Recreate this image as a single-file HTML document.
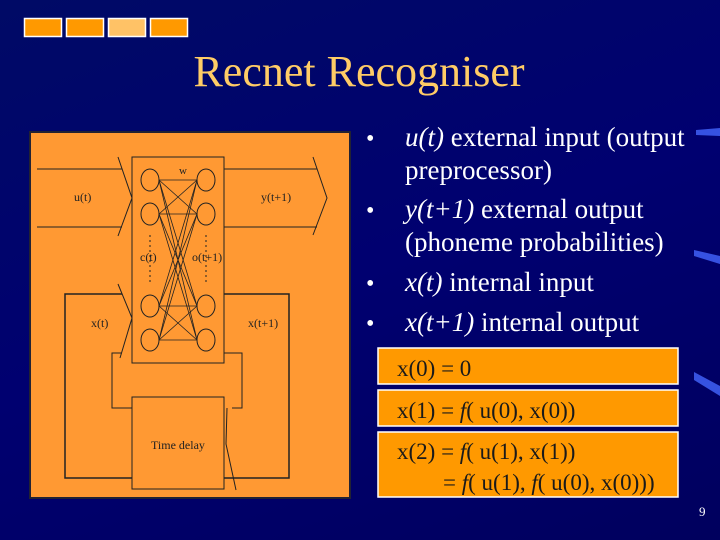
<!DOCTYPE html>
<html><head><meta charset="utf-8"><style>
html,body{margin:0;padding:0;}
body{width:720px;height:540px;overflow:hidden;background:linear-gradient(160deg,#000a66 0%,#000070 50%,#00005e 100%);font-family:"Liberation Serif",serif;}
</style></head><body>
<svg width="720" height="540" xmlns="http://www.w3.org/2000/svg" style="position:absolute;left:0;top:0">
<g stroke="#fff" stroke-width="1.5">
<rect x="24.5" y="18.5" width="37" height="18" fill="#ff9900"/>
<rect x="66.5" y="18.5" width="37" height="18" fill="#ff9900"/>
<rect x="108.5" y="18.5" width="37" height="18" fill="#ffc266"/>
<rect x="150.5" y="18.5" width="37" height="18" fill="#ff9900"/>
</g>
<text x="359" y="86" text-anchor="middle" font-size="44" fill="#ffcc66" font-family="Liberation Serif">Recnet Recogniser</text>
<rect x="30" y="132" width="320" height="366" fill="#ff9933" stroke="#223" stroke-width="2"/>
<g stroke="#222" stroke-width="1" fill="none">
<rect x="132" y="157" width="92" height="206"/>
<rect x="132" y="397" width="92" height="92"/>
<line x1="37" y1="169" x2="122" y2="169"/><line x1="37" y1="227" x2="122" y2="227"/>
<polyline points="118,157 132,198 118,236"/>
<line x1="224" y1="169" x2="317" y2="169"/><line x1="224" y1="227" x2="317" y2="227"/>
<polyline points="313,157 327,198 313,235"/>
<polyline points="122,294 65,294 65,478 132,478" stroke-width="1.5"/>
<polyline points="118,284 132,318 120,358"/>
<polyline points="224,294 289,294 289,478 224,478" stroke-width="1.5"/>
<polyline points="227,408 226,444 236,490"/>
<polyline points="122,353 112,353 112,408 132,408"/>
<polyline points="224,353 242,353 242,408 232,408"/>
<g stroke-width="1">
<ellipse cx="150" cy="180" rx="9" ry="11"/><ellipse cx="150" cy="214" rx="9" ry="11"/>
<ellipse cx="150" cy="306" rx="9" ry="11"/><ellipse cx="150" cy="340" rx="9" ry="11"/>
<ellipse cx="206" cy="180" rx="9" ry="11"/><ellipse cx="206" cy="214" rx="9" ry="11"/>
<ellipse cx="206" cy="306" rx="9" ry="11"/><ellipse cx="206" cy="340" rx="9" ry="11"/>
</g>
<g stroke-width="0.8">
<line x1="159" y1="180" x2="197" y2="180"/><line x1="159" y1="180" x2="197" y2="214"/><line x1="159" y1="180" x2="197" y2="306"/><line x1="159" y1="180" x2="197" y2="340"/>
<line x1="159" y1="214" x2="197" y2="180"/><line x1="159" y1="214" x2="197" y2="214"/><line x1="159" y1="214" x2="197" y2="306"/><line x1="159" y1="214" x2="197" y2="340"/>
<line x1="159" y1="306" x2="197" y2="180"/><line x1="159" y1="306" x2="197" y2="214"/><line x1="159" y1="306" x2="197" y2="306"/><line x1="159" y1="306" x2="197" y2="340"/>
<line x1="159" y1="340" x2="197" y2="180"/><line x1="159" y1="340" x2="197" y2="214"/><line x1="159" y1="340" x2="197" y2="306"/><line x1="159" y1="340" x2="197" y2="340"/>
</g>
<line x1="150" y1="235" x2="150" y2="285" stroke-dasharray="2,3"/>
<line x1="206" y1="235" x2="206" y2="285" stroke-dasharray="2,3"/>
</g>
<g font-size="12" fill="#222" font-family="Liberation Serif">
<text x="74" y="201">u(t)</text>
<text x="261" y="201">y(t+1)</text>
<text x="179" y="174" font-size="11">w</text>
<text x="140" y="261">c(t)</text>
<text x="192" y="261">o(t+1)</text>
<text x="91" y="327">x(t)</text>
<text x="248" y="327">x(t+1)</text>
<text x="151" y="449">Time delay</text>
</g>
<g font-size="27" fill="#fff" font-family="Liberation Serif">
<text x="366" y="146" font-size="24">•</text><text x="405" y="146"><tspan font-style="italic">u(t)</tspan> external input (output</text>
<text x="405" y="179">preprocessor)</text>
<text x="366" y="218" font-size="24">•</text><text x="405" y="218"><tspan font-style="italic">y(t+1)</tspan> external output</text>
<text x="405" y="251">(phoneme probabilities)</text>
<text x="366" y="291" font-size="24">•</text><text x="405" y="291"><tspan font-style="italic">x(t)</tspan> internal input</text>
<text x="366" y="331" font-size="24">•</text><text x="405" y="331"><tspan font-style="italic">x(t+1)</tspan> internal output</text>
</g>
<g stroke="#fff" stroke-width="1.5" fill="#ff9900">
<rect x="378" y="348" width="300" height="36"/>
<rect x="378" y="390" width="300" height="36"/>
<rect x="378" y="432" width="300" height="65"/>
</g>
<g font-size="23" fill="#1a1a1a" font-family="Liberation Serif">
<text x="397" y="376">x(0) = 0</text>
<text x="397" y="418">x(1) = <tspan font-style="italic">f</tspan>( u(0), x(0))</text>
<text x="397" y="459">x(2) = <tspan font-style="italic">f</tspan>( u(1), x(1))</text>
<text x="443" y="490">= <tspan font-style="italic">f</tspan>( u(1), <tspan font-style="italic">f</tspan>( u(0), x(0)))</text>
</g>
<text x="699" y="516" font-size="13" fill="#fff">9</text>
<g fill="#4466ff" opacity="0.8">
<polygon points="696,130 720,128 720,136 696,135"/>
<polygon points="694,250 720,256 720,264 694,256"/>
<polygon points="694,372 720,386 720,396 694,380"/>
</g>
</svg>
</body></html>
